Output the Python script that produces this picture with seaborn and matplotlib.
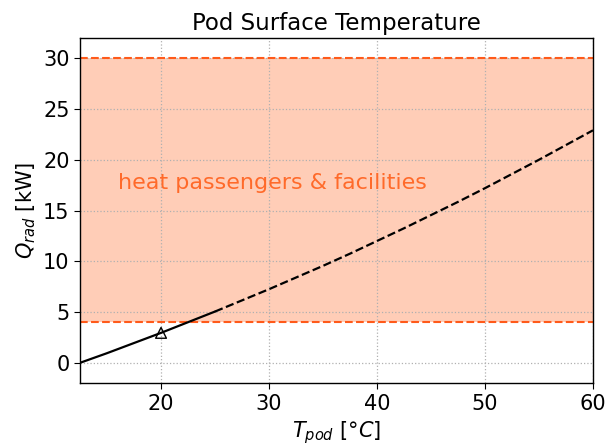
import matplotlib
matplotlib.use("Agg")
import matplotlib.pyplot as plt
import seaborn as sns
import pandas as pd

# Data
t_solid = [12.5, 15.0, 17.5, 20.0, 22.5, 25.0]
q_solid = [0.0, 0.95, 1.95, 2.95, 4.0, 5.05]
t_dashed = [25.0, 27.5, 30.0, 32.5, 35.0, 37.5, 40.0, 42.5, 45.0, 47.5, 50.0, 52.5, 55.0, 57.5, 60.0]
q_dashed = [5.05, 6.15, 7.25, 8.4, 9.55, 10.75, 12.0, 13.25, 14.55, 15.85, 17.2, 18.6, 20.0, 21.45, 22.9]
marker_t = [20.0]
marker_q = [2.95]
band_low = 4.0
band_high = 30.0
band_label = "heat passengers & facilities"

sns.set_style("ticks")
plt.rcParams['font.family'] = ['DejaVu Sans']
plt.rcParams['text.color'] = 'black'
plt.rcParams['axes.labelcolor'] = 'black'
plt.rcParams['xtick.color'] = 'black'
plt.rcParams['ytick.color'] = 'black'

fig = plt.figure(figsize=(6.11, 4.46), dpi=100)
ax = fig.add_axes([0.131, 0.141, 0.8395, 0.774])

ax.axhspan(band_low, band_high, color='#ffcdb7', zorder=0, lw=0)
ax.axhline(band_low, color='#ff5a1a', ls='--', lw=1.5, zorder=2)
ax.axhline(band_high, color='#ff5a1a', ls='--', lw=1.5, zorder=2)

df_s = pd.DataFrame({'T': t_solid, 'Q': q_solid})
df_d = pd.DataFrame({'T': t_dashed, 'Q': q_dashed})
sns.lineplot(data=df_s, x='T', y='Q', ax=ax, color='black', lw=1.6, zorder=3)
sns.lineplot(data=df_d, x='T', y='Q', ax=ax, color='black', lw=1.6, ls='--', zorder=3)
sns.scatterplot(x=marker_t, y=marker_q, ax=ax, marker='^', s=60, facecolor='none',
                edgecolor='black', linewidth=1.0, zorder=4)

ax.text(16.0, 17.7, band_label, color='#ff6a2a', fontsize=16, va='center', ha='left', zorder=3)

ax.set_xlim(12.5, 60)
ax.set_ylim(-2, 32)
ax.set_xticks([20, 30, 40, 50, 60])
ax.set_yticks([0, 5, 10, 15, 20, 25, 30])
ax.grid(True, ls=':', color='#b0b0b0', lw=0.9, zorder=1)
ax.set_axisbelow(True)
for s in ax.spines.values():
    s.set_color('black')
    s.set_linewidth(1.0)
ax.tick_params(labelsize=15, colors='black', length=4)
ax.set_xlabel(r'$T_{pod}$ [$\degree C$]', fontsize=15, color='black')
ax.set_ylabel(r'$Q_{rad}$ [kW]', fontsize=15, color='black')
ax.set_title('Pod Surface Temperature', fontsize=16.5, color='black')

fig.savefig('out.png', dpi=100)
